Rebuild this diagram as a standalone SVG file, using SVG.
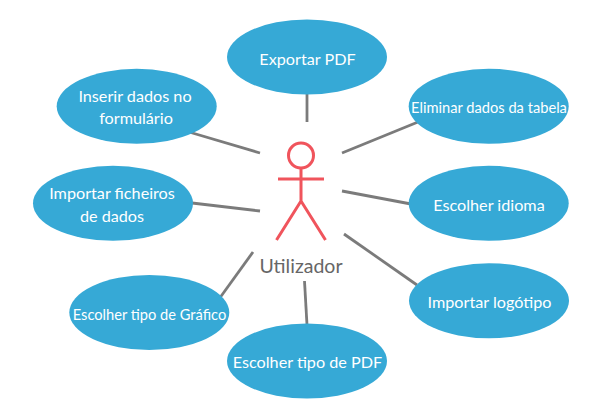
<svg xmlns="http://www.w3.org/2000/svg" width="611" height="419" viewBox="0 0 611 419">
<style>
.n ellipse{fill:#36a9d6}
.n text{fill:#fff;font-family:Lato,"Open Sans",sans-serif;text-anchor:middle;font-size:16.200px}
.n text.s{font-size:14.67px}
.c line{stroke:#7b7b7b;stroke-width:2.800;fill:none}
.a circle,.a path{fill:none;stroke:#f0545c;stroke-width:3}
</style>
<rect width="611" height="419" fill="#fff"/>
<g id="connectors" class="c">
<line x1="307" y1="93" x2="307" y2="122"/>
<line x1="189" y1="132" x2="260" y2="153"/>
<line x1="192" y1="203" x2="260" y2="211"/>
<line x1="220.500" y1="297" x2="253" y2="252"/>
<line x1="307" y1="325" x2="304.500" y2="281"/>
<line x1="418" y1="122" x2="342" y2="153"/>
<line x1="411" y1="204" x2="342" y2="191"/>
<line x1="417" y1="285" x2="344" y2="234"/>
</g>
<g id="actor" class="a">
<circle cx="301" cy="155.500" r="12.500"/>
<path d="M301 168V201M278 179H324M276.500 240L301 201L325.500 240"/>
<text x="301" y="273" font-family="Lato,'Open Sans',sans-serif" font-size="19.500" fill="#666" text-anchor="middle">Utilizador</text>
</g>
<g id="n1" class="n"><ellipse cx="307" cy="57" rx="80" ry="37.500"/><text x="307.500" y="65">Exportar PDF</text></g>
<g id="n2" class="n"><ellipse cx="136.700" cy="106.300" rx="80" ry="37.500"/><text x="135" y="102">Inserir dados no</text><text x="136" y="124">formulário</text></g>
<g id="n3" class="n"><ellipse cx="488.700" cy="106.300" rx="80" ry="37.500"/><text class="s" x="489" y="113">Eliminar dados da tabela</text></g>
<g id="n4" class="n"><ellipse cx="113" cy="203.300" rx="80" ry="37.500"/><text x="112" y="199">Importar ficheiros</text><text x="112" y="222">de dados</text></g>
<g id="n5" class="n"><ellipse cx="488.700" cy="203.300" rx="80" ry="37.500"/><text x="489" y="211">Escolher idioma</text></g>
<g id="n6" class="n"><ellipse cx="149.300" cy="312.500" rx="80" ry="37.500"/><text class="s" x="149.500" y="320">Escolher tipo de Gráfico</text></g>
<g id="n7" class="n"><ellipse cx="489" cy="300.800" rx="80" ry="37.500"/><text x="489.500" y="308">Importar logótipo</text></g>
<g id="n8" class="n"><ellipse cx="307" cy="361" rx="80" ry="37.500"/><text x="307.500" y="368">Escolher tipo de PDF</text></g>
</svg>
